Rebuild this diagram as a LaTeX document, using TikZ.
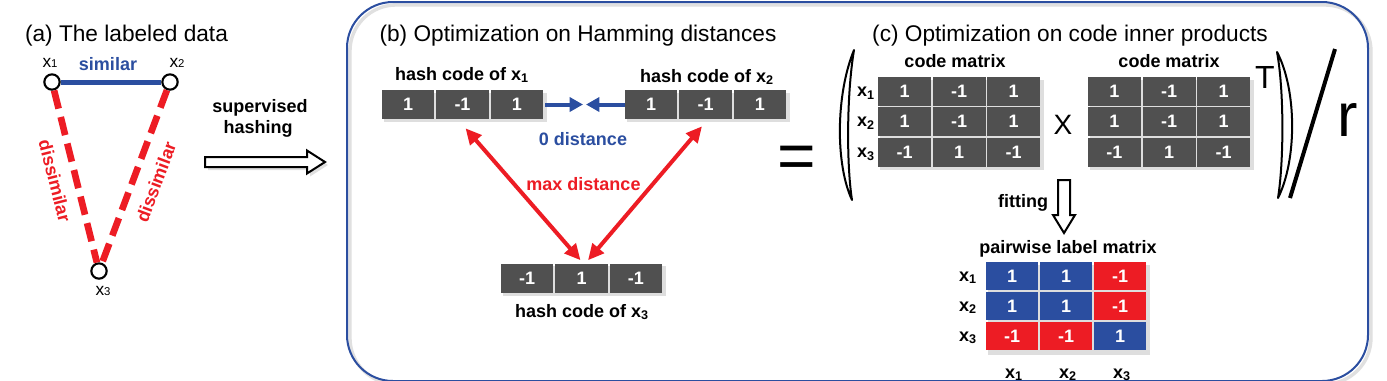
\documentclass[tikz,border=0pt]{standalone}
\usepackage{fontspec}
\setmainfont{Liberation Sans}
\usetikzlibrary{arrows.meta,calc}
\definecolor{cellgray}{RGB}{80,80,80}
\definecolor{myblue}{RGB}{43,78,160}
\definecolor{myred}{RGB}{237,28,36}
\newcommand{\mylbl}{\fontsize{13.5}{16}\selectfont\bfseries}
\newcommand{\myttl}{\fontsize{17}{20}\selectfont}
\newcommand{\myxa}[1]{{\fontsize{13}{15}\selectfont x}{\fontsize{8.5}{10}\selectfont #1}}
\newcommand{\myxb}[1]{x\textsubscript{#1}}
\begin{document}
\begin{tikzpicture}[x=0.75pt,y=-0.75pt,
  dot/.style={circle,draw=black,fill=white,line width=1.6pt,minimum size=11.5pt,inner sep=0pt},
  hcell/.style={rectangle,fill=cellgray,text=white,font=\mylbl,inner sep=0pt,minimum width=39.2pt,minimum height=21.75pt},
  mcell/.style={rectangle,fill=cellgray,text=white,font=\mylbl,inner sep=0pt,minimum width=39.75pt,minimum height=21.4pt},
  pcell/.style={rectangle,text=white,font=\mylbl,inner sep=0pt,minimum width=39pt,minimum height=21pt},
  lab/.style={font=\mylbl,anchor=base,inner sep=0pt},
  ttl/.style={font=\myttl,anchor=base,inner sep=0pt},
  shadowbox/.style={fill=black!13},
  hollow/.style={draw=black,fill=white,line width=1.5pt,line join=miter}
]
\useasboundingbox (0,0) rectangle (1387,380);
\fill[white] (0,0) rectangle (1387,380);

% ---------- big rounded box
\draw[black!12,line width=2.5pt,rounded corners=34.5pt] (350,5) rectangle (1371,384);
\draw[myblue,line width=1.5pt,rounded corners=34.5pt] (347,2) rectangle (1368,381);

% ---------- panel (a)
\node[ttl] (ta) at (126.5,41) {(a) The labeled data};
\node[dot] (n1) at (52,82) {};
\node[dot] (n2) at (170,82) {};
\node[dot] (n3) at (99,271) {};
\draw[myblue,line width=3.75pt] (n1) -- (n2);
\draw[myred,line width=5pt,dash pattern=on 14pt off 6.5pt] (n1) -- (n3);
\draw[myred,line width=5pt,dash pattern=on 14pt off 6.5pt] (n2) -- (n3);
\node[lab,text=myblue] (sim) at (108,70) {similar};
\node[font=\mylbl,text=myred,rotate=-75.7,inner sep=0pt] (d1) at (55,181) {dissimilar};
\node[font=\mylbl,text=myred,rotate=69.6,inner sep=0pt] (d2) at (156,182) {dissimilar};
\node[anchor=base,inner sep=0pt] (l1) at (50,67) {\myxa{1}};
\node[anchor=base,inner sep=0pt] (l2) at (177,67) {\myxa{2}};
\node[anchor=base,inner sep=0pt] (l3) at (103,295) {\myxa{3}};

% supervised hashing arrow
\node[lab] (sup) at (260,112) {supervised};
\node[lab] (hsh) at (258,133) {hashing};
\fill[black!12] (208,160)--(310,160)--(310,153.5)--(328,165)--(310,176.5)--(310,170)--(208,170)--cycle;
\draw[hollow] (205,157)--(307,157)--(307,150.5)--(325,162)--(307,173.5)--(307,167)--(205,167)--cycle;

% ---------- panel (b)
\node[ttl] (tb) at (578,41) {(b) Optimization on Hamming distances};
\node[lab] (lh1) at (462,80) {hash code of \myxb{1}};
\node[lab] (lh2) at (707,82) {hash code of \myxb{2}};
\node[lab] (lh3) at (582,317) {hash code of \myxb{3}};
\fill[shadowbox] (384,93) rectangle (547,122);
\fill[shadowbox] (627,93) rectangle (790,122);
\fill[shadowbox] (503,266) rectangle (666,296);
\foreach \v [count=\i] in {1,-1,1}
  \node[hcell] (ha\i) at ({408.2+(\i-1)*54.3},104.5) {\v};
\foreach \v [count=\i] in {1,-1,1}
  \node[hcell] (hb\i) at ({651.2+(\i-1)*54.3},104.5) {\v};
\foreach \v [count=\i] in {-1,1,-1}
  \node[hcell] (hc\i) at ({527.2+(\i-1)*54.3},278) {\v};
\coordinate (bm1) at (583,104.5);
\coordinate (bm2) at (586,104.5);
\draw[myblue,line width=3pt,-{Triangle[length=10pt,width=10.5pt]}] ([xshift=1.5pt]ha3.east) -- (bm1);
\draw[myblue,line width=3pt,-{Triangle[length=10pt,width=10.5pt]}] (hb1.west) -- (bm2);
\node[lab,text=myblue] (zd) at (583,145) {0 distance};
\draw[myred,line width=3pt,{Triangle[length=12pt,width=11pt]}-{Triangle[length=12pt,width=11pt]}]
  ($(ha2.south)+(3,9)$) -- ($(hc2.north)+(-1,-3)$);
\draw[myred,line width=3pt,{Triangle[length=12pt,width=11pt]}-{Triangle[length=12pt,width=11pt]}]
  ($(hb2.south)+(-3.5,7)$) -- ($(hc2.north)+(6.5,-3)$);
\node[lab,text=myred] (md) at (583.5,190) {max distance};

% equals
\node[font=\fontsize{49.5}{50}\selectfont,anchor=base,inner sep=0pt] (eq) at (796.5,178) {=};

% ---------- panel (c)
\node[ttl] (tc) at (1070,41) {(c) Optimization on code inner products};
% parentheses
\draw[line width=1.5pt,fill=white,line join=round] (854,50) .. controls (835.5,95) and (835.5,165) .. (852,200)
   .. controls (846.5,165) and (846.5,95) .. (854,50) -- cycle;
\draw[line width=1.5pt,fill=white,line join=round] (1277,52) .. controls (1297,90) and (1297,160) .. (1278,198)
   .. controls (1284,160) and (1284,90) .. (1277,52) -- cycle;
\draw[line width=3pt] (1335,49) -- (1290,198);
\node[font=\fontsize{46}{50}\selectfont,anchor=base,inner sep=0pt] (rr) at (1348,136) {r};
\node[font=\fontsize{24}{28}\selectfont,anchor=base,inner sep=0pt] (tt) at (1265,88) {T};
\node[font=\fontsize{21}{24}\selectfont,anchor=base,inner sep=0pt] (xx) at (1063,134) {X};

\node[lab] (cm1) at (955,67) {code matrix};
\node[lab] (cm2) at (1169,67) {code matrix};
\fill[shadowbox] (880,80) rectangle (1044,170);
\fill[shadowbox] (1090,80) rectangle (1254,170);
\foreach \row [count=\r] in {{1,-1,1},{1,-1,1},{-1,1,-1}} {
  \foreach \v [count=\c] in \row {
    \node[mcell] (L\r\c) at ({904.5+(\c-1)*54.5},{91.25+(\r-1)*30.5}) {\v};
    \node[mcell] (R\r\c) at ({1114.3+(\c-1)*54.7},{91.25+(\r-1)*30.5}) {\v};
  }
}
\foreach \i in {1,2,3}
  \node[lab] (cl\i) at (866,{96.25+(\i-1)*30.5}) {\myxb{\i}};

% fitting arrow
\node[lab] (fit) at (1023,207) {fitting};
\draw[hollow] (1058,180)--(1070,180)--(1070,215)--(1075,215)--(1064,233)--(1053,215)--(1058,215)--cycle;

% pairwise label matrix
\node[lab] (plm) at (1068,253) {pairwise label matrix};
\fill[shadowbox] (988,265) rectangle (1150,355);
\foreach \row [count=\r] in {{1/myblue,1/myblue,-1/myred},{1/myblue,1/myblue,-1/myred},{-1/myred,-1/myred,1/myblue}} {
  \foreach \v/\col [count=\c] in \row {
    \node[pcell,fill=\col] (P\r\c) at ({1012+(\c-1)*54},{276+(\r-1)*30}) {\v};
  }
}
\foreach \i in {1,2,3} {
  \node[lab] (pr\i) at (968,{281+(\i-1)*30}) {\myxb{\i}};
  \node[lab] (pc\i) at ({1014+(\i-1)*54},378) {\myxb{\i}};
}
\end{tikzpicture}
\end{document}
